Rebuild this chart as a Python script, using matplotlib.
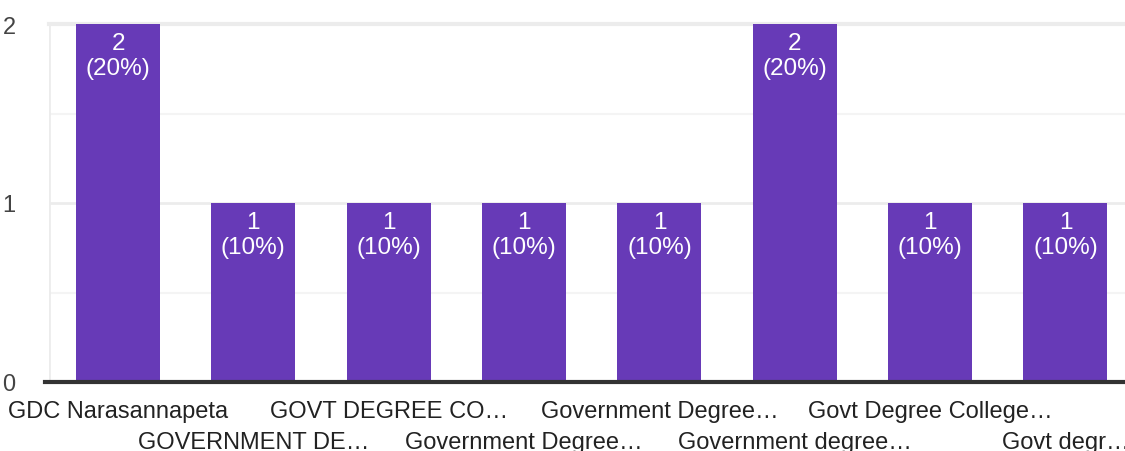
import matplotlib
matplotlib.use("Agg")
import matplotlib.pyplot as plt
from matplotlib.transforms import blended_transform_factory

categories = ["GDC Narasannapeta", "GOVERNMENT DE…", "GOVT DEGREE CO…", "Government Degree…",
              "Government Degree…", "Government degree…", "Govt Degree College…", "Govt degr…"]
counts = [2, 1, 1, 1, 1, 2, 1, 1]
percents = [20, 10, 10, 10, 10, 20, 10, 10]
yticks = [0, 1, 2]

plt.rcParams['font.family'] = ['Liberation Sans', 'DejaVu Sans']

fig = plt.figure(figsize=(11.25, 4.52), dpi=100)
ax = fig.add_axes([49/1125, 69/452, 1 - 49/1125, (382-24)/452])

x = list(range(len(categories)))
ax.bar(x, counts, width=0.62, color="#673AB7", zorder=3)

ax.set_xlim(-0.51, 7.44)
ax.set_ylim(0, 2)

# gridlines
for v in [0.5, 1.5]:
    ax.axhline(v, color="#f4f4f4", lw=1.5, zorder=1)
ax.axhline(1, color="#ececec", lw=2, zorder=1)
ax.axhline(2, color="#ececec", lw=3, zorder=1, clip_on=False)
ax.axvline(-0.51, color="#ececec", lw=2, zorder=1)
ax.axhline(0, color="#333333", lw=3, zorder=4, clip_on=False, xmin=-4/1076)

for s in ax.spines.values():
    s.set_visible(False)

ax.set_yticks(yticks)
ax.set_yticklabels([str(v) for v in yticks], fontsize=17, color="#444444")
ax.tick_params(axis='y', length=0, pad=24)
ax.set_xticks([])

for i, (c, p) in enumerate(zip(counts, percents)):
    ax.annotate(f"{c}\n({p}%)", xy=(i, c), xytext=(0, -8), textcoords='offset pixels',
                ha='center', va='top', color='white', fontsize=17.5, linespacing=1.2, zorder=5)

tr = blended_transform_factory(ax.transData, ax.transAxes)
for i, lab in enumerate(categories):
    off = 29 if i % 2 == 0 else 60
    ax.annotate(lab, xy=(i, 0), xycoords=tr, xytext=(0, -off), textcoords='offset pixels',
                ha='center', va='center', fontsize=17, color="#222222", annotation_clip=False)

fig.savefig("out.png", dpi=100)
